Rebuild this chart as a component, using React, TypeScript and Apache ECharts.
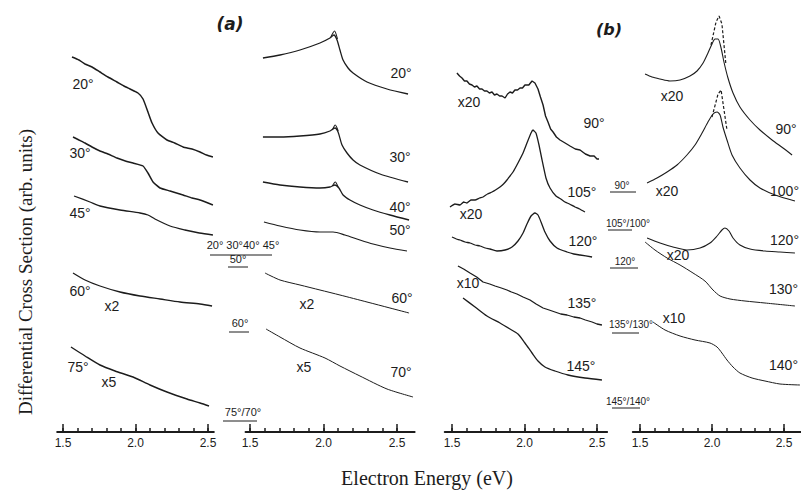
import React, { useEffect, useRef } from "react";
import * as echarts from "echarts";

// ---------- data (E in eV, intensity in arb. units) ----------
const MINOR_TICKS = [1.5, 1.6, 1.7, 1.8, 1.9, 2.0, 2.1, 2.2, 2.3, 2.4, 2.5];
const MAJOR_TICKS = [1.5, 2.0, 2.5];
const TICK_LABELS = [1.5, 2.0, 2.5];

// panel (a), left column
const a1_20 = [[1.562,375],[1.61,372],[1.652,368],[1.7,365],[1.755,360],[1.81,355],[1.872,350],[1.92,346],[1.962,343],[2.017,339],[2.052,333],[2.086,320],[2.114,309],[2.155,299],[2.217,292],[2.27,289],[2.328,285],[2.39,283],[2.445,280],[2.49,277],[2.534,275]];
const a1_30 = [[1.569,295],[1.61,292],[1.652,289],[1.7,285],[1.755,281],[1.81,278],[1.872,274],[1.93,271],[1.983,269],[2.052,266],[2.086,259],[2.121,250],[2.169,244],[2.238,241],[2.328,237],[2.39,234],[2.445,232],[2.534,227]];
const a1_45 = [[1.576,236],[1.686,230],[1.755,226],[1.893,222],[2.031,219],[2.086,217],[2.134,213],[2.238,206],[2.341,202],[2.44,199],[2.534,197]];
const a1_60 = [[1.569,159],[1.652,152],[1.755,146],[1.893,140],[2.031,136],[2.169,133],[2.307,130],[2.445,128],[2.528,126]];
const a1_75 = [[1.555,85],[1.652,76],[1.755,67],[1.859,61],[1.983,55],[2.1,47],[2.217,40],[2.355,33],[2.445,29],[2.507,26]];

// panel (a), right column
const a2_20 = [[1.588,374],[1.704,377],[1.84,382],[1.976,389],[2.044,394],[2.071,397],[2.092,392],[2.112,382],[2.133,372],[2.167,364],[2.201,359],[2.296,350],[2.432,343],[2.575,338]];
const a2_20pk = [[2.05,395],[2.075,401],[2.095,393]];
const a2_30 = [[1.588,295],[1.704,295],[1.84,296],[1.976,298],[2.044,301],[2.078,304],[2.099,300],[2.126,287],[2.16,279],[2.201,272],[2.248,267],[2.384,258],[2.575,250]];
const a2_30pk = [[2.06,302],[2.08,307],[2.1,301]];
const a2_40 = [[1.588,250],[1.704,247],[1.84,245],[1.976,244],[2.044,245],[2.078,247],[2.105,244],[2.133,237],[2.18,232],[2.248,227],[2.337,222],[2.452,217],[2.582,212]];
const a2_40pk = [[2.06,246],[2.08,250],[2.1,245]];
const a2_50 = [[1.595,210],[1.704,206],[1.84,202],[1.976,200],[2.065,200],[2.146,197],[2.248,192],[2.337,188],[2.452,184],[2.568,181]];
const a2_60 = [[1.602,159],[1.704,152],[1.84,147],[1.976,142],[2.112,137],[2.296,130],[2.452,124],[2.582,119]];
const a2_70 = [[1.609,103],[1.704,95],[1.84,84],[2.01,74],[2.112,66],[2.248,56],[2.432,43],[2.609,35]];

// panel (b), left column
const b1_90 = [[1.534,359],[1.552,356],[1.569,354],[1.586,351],[1.603,351],[1.62,348],[1.638,347],[1.655,345],[1.672,346],[1.69,343],[1.707,343],[1.724,341],[1.741,341],[1.758,339],[1.776,340],[1.793,337],[1.81,338],[1.828,336],[1.845,336],[1.866,334],[1.883,338],[1.9,340],[1.917,339],[1.934,342],[1.952,342],[1.969,344],[1.986,344],[2.003,347],[2.03,347],[2.052,351],[2.072,349],[2.093,343],[2.11,335],[2.128,327],[2.145,316],[2.162,310],[2.18,303],[2.197,300],[2.22,295],[2.245,292],[2.28,289],[2.314,286],[2.35,283],[2.383,282],[2.42,278],[2.452,276],[2.48,276],[2.5,273],[2.514,273]];
const b1_105 = [[1.486,225],[1.52,228],[1.555,227],[1.58,230],[1.603,229],[1.63,232],[1.659,232],[1.69,234],[1.714,235],[1.745,238],[1.776,240],[1.8,242],[1.831,245],[1.855,248],[1.879,252],[1.9,256],[1.921,260],[1.955,269],[1.99,279],[2.017,289],[2.045,299],[2.059,302],[2.079,299],[2.1,287],[2.121,272],[2.148,254],[2.176,244],[2.217,236],[2.25,233],[2.279,230],[2.31,228],[2.348,225],[2.38,223],[2.417,220]];
const b1_120 = [[1.5,195],[1.53,193],[1.555,192],[1.59,190],[1.624,189],[1.66,187],[1.693,186],[1.73,184],[1.762,183],[1.81,181],[1.866,182],[1.914,185],[1.955,191],[1.99,199],[2.017,208],[2.045,216],[2.072,219],[2.093,217],[2.114,210],[2.141,200],[2.176,191],[2.224,184],[2.293,180],[2.34,178],[2.383,177],[2.466,175]];
const b1_135 = [[1.541,166],[1.58,163],[1.624,159],[1.67,155],[1.714,150],[1.76,148],[1.797,146],[1.84,144],[1.879,142],[1.91,140],[1.948,138],[1.99,135],[2.038,132],[2.08,128],[2.128,124],[2.17,122],[2.21,120],[2.25,118],[2.293,117],[2.34,115],[2.383,114],[2.42,112],[2.466,110],[2.5,108],[2.534,107]];
const b1_145 = [[1.576,134],[1.659,125],[1.741,116],[1.831,109],[1.9,103],[1.955,98],[2.003,89],[2.052,79],[2.093,71],[2.141,65],[2.21,61],[2.3,57],[2.417,54],[2.534,52]];

// panel (b), right column
const b2_90 = [[1.535,358],[1.583,355],[1.639,353],[1.708,351],[1.778,352],[1.847,356],[1.896,361],[1.938,369],[1.972,379],[2.0,388],[2.021,393],[2.042,393],[2.063,384],[2.083,370],[2.111,354],[2.146,339],[2.194,325],[2.264,312],[2.333,302],[2.417,292],[2.493,284],[2.556,277]];
const b2_90pk = [[1.993,387],[2.028,410],[2.049,416],[2.069,408],[2.097,367]];
const b2_100 = [[1.549,249],[1.618,254],[1.688,260],[1.757,267],[1.826,277],[1.882,287],[1.931,299],[1.972,310],[2.007,318],[2.035,320],[2.056,317],[2.076,305],[2.104,292],[2.139,277],[2.194,264],[2.264,252],[2.333,244],[2.438,237],[2.576,231]];
const b2_100pk = [[2.0,315],[2.042,338],[2.063,342],[2.104,302]];
const b2_120 = [[1.549,194],[1.639,189],[1.729,185],[1.826,182],[1.917,184],[1.986,189],[2.035,196],[2.069,202],[2.09,204],[2.118,201],[2.146,194],[2.194,187],[2.264,183],[2.368,181],[2.472,180],[2.576,179]];
const b2_130 = [[1.535,190],[1.604,182],[1.688,174],[1.778,167],[1.868,159],[1.951,151],[2.007,142],[2.056,136],[2.125,133],[2.229,131],[2.368,129],[2.576,126]];
const b2_140 = [[1.59,110],[1.674,102],[1.778,96],[1.882,92],[1.986,89],[2.035,85],[2.069,79],[2.104,72],[2.146,65],[2.194,59],[2.278,54],[2.368,51],[2.472,48],[2.611,47]];

// ---------- layout ----------
const W = 801;
const H = 490;
const AXIS_Y = 432; // pixel row of the energy axes
const Y_MAX = 432;
const PANELS = [
  { px15: 63, ppe: 145, min: 1.46, max: 2.54 },
  { px15: 250, ppe: 147, min: 1.47, max: 2.62 },
  { px15: 452, ppe: 145, min: 1.45, max: 2.57 },
  { px15: 640, ppe: 144, min: 1.45, max: 2.615 },
];

const INK = "#1c1c1c";
const LABEL_FONT = "Liberation Sans";

export default function App() {
  const ref = useRef<HTMLDivElement>(null);
  useEffect(() => {
    if (!ref.current) return;
    const chart = echarts.init(ref.current, null, { renderer: "svg" });

    const grids = PANELS.map((p) => {
      const l = p.px15 + (p.min - 1.5) * p.ppe;
      const r = p.px15 + (p.max - 1.5) * p.ppe;
      return { left: l, width: r - l, top: AXIS_Y - Y_MAX, height: Y_MAX };
    });

    const xAxes: any[] = [];
    const yAxes: any[] = [];
    PANELS.forEach((p, i) => {
      xAxes.push({
        type: "value", gridIndex: i, min: p.min, max: p.max, position: "bottom",
        axisLine: { show: true, onZero: false, lineStyle: { color: INK, width: 2 } },
        axisTick: { show: true, inside: true, length: 4, customValues: MINOR_TICKS, lineStyle: { color: INK, width: 1.5 } },
        axisLabel: {
          show: true, customValues: TICK_LABELS, margin: 5,
          formatter: (v: number) => v.toFixed(1),
          color: INK, fontSize: 12, fontFamily: LABEL_FONT,
        },
        splitLine: { show: false },
      });
      xAxes.push({
        type: "value", gridIndex: i, min: p.min, max: p.max, position: "bottom", offset: 0,
        axisLine: { show: false, onZero: false },
        axisTick: { show: true, inside: true, length: 8, customValues: MAJOR_TICKS, lineStyle: { color: INK, width: 1.5 } },
        axisLabel: { show: false },
        splitLine: { show: false },
      });
      yAxes.push({ type: "value", gridIndex: i, min: 0, max: Y_MAX, show: false });
    });

    const mk = (data: number[][], panel: number, width = 1.3, dashed = false, smooth: any = 0.25) => ({
      type: "line", data, xAxisIndex: panel * 2, yAxisIndex: panel,
      showSymbol: false, smooth, silent: true,
      lineStyle: { color: INK, width, type: dashed ? [3, 2] : "solid" },
    });

    const series = [
      mk(a1_20, 0, 1.5, false, 0.15), mk(a1_30, 0, 1.5, false, 0.15), mk(a1_45, 0, 1.3), mk(a1_60, 0, 1.3), mk(a1_75, 0, 1.4),
      mk(a2_20, 1, 1.3), mk(a2_20pk, 1, 1.1), mk(a2_30, 1, 1.3), mk(a2_30pk, 1, 1.1), mk(a2_40, 1, 1.3), mk(a2_40pk, 1, 1.1),
      mk(a2_50, 1, 1.2), mk(a2_60, 1, 1.0), mk(a2_70, 1, 1.0),
      mk(b1_90, 2, 1.4, false, false), mk(b1_105, 2, 1.3, false, 0.1), mk(b1_120, 2, 1.3, false, 0.2), mk(b1_135, 2, 1.3, false, false), mk(b1_145, 2, 1.3),
      mk(b2_90, 3, 1.1), mk(b2_90pk, 3, 1.2, true, false), mk(b2_100, 3, 1.1), mk(b2_100pk, 3, 1.2, true, false),
      mk(b2_120, 3, 1.1), mk(b2_130, 3, 1.0), mk(b2_140, 3, 1.0),
    ];

    const lbl = (text: string, x: number, y: number, size = 14, align = "center") => ({
      type: "text", x, y, silent: true,
      style: { text, fill: INK, fontSize: size, fontFamily: LABEL_FONT, textAlign: align, textVerticalAlign: "middle" },
    });
    const uline = (x1: number, x2: number, y: number) => ({
      type: "line", silent: true, shape: { x1, y1: y, x2, y2: y }, style: { stroke: INK, lineWidth: 1 },
    });

    const graphic: any[] = [
      {
        type: "text", x: 25, y: 272, rotation: Math.PI / 2, silent: true,
        style: { text: "Differential Cross Section (arb. units)", fill: INK, fontSize: 19, fontFamily: "Liberation Serif", textAlign: "center", textVerticalAlign: "middle" },
      },
      {
        type: "text", x: 427, y: 478, silent: true,
        style: { text: "Electron Energy (eV)", fill: INK, fontSize: 20, fontFamily: "Liberation Serif", textAlign: "center", textVerticalAlign: "middle" },
      },
      { type: "text", x: 230, y: 24, silent: true, style: { text: "(a)", fill: INK, fontSize: 17, fontWeight: "bold", fontStyle: "italic", fontFamily: "DejaVu Sans", textAlign: "center", textVerticalAlign: "middle" } },
      { type: "text", x: 609, y: 29, silent: true, style: { text: "(b)", fill: INK, fontSize: 16, fontWeight: "bold", fontStyle: "italic", fontFamily: "DejaVu Sans", textAlign: "center", textVerticalAlign: "middle" } },
      // panel (a) left
      lbl("20°", 83, 84), lbl("30°", 80, 153), lbl("45°", 80, 213), lbl("60°", 80, 291), lbl("x2", 112, 306), lbl("75°", 78, 367), lbl("x5", 109, 382),
      // panel (a) right
      lbl("20°", 401, 73), lbl("30°", 400, 157), lbl("40°", 400, 207), lbl("50°", 400, 230), lbl("x2", 307, 304), lbl("60°", 402, 298), lbl("x5", 304, 367), lbl("70°", 401, 372),
      // middle (a)
      lbl("20° 30°40° 45°", 243, 245, 11), uline(210, 272, 255),
      lbl("50°", 238, 259, 11), uline(228, 248, 267),
      lbl("60°", 240, 323, 11), uline(229, 249, 332),
      lbl("75°/70°", 243, 412, 11), uline(223, 257, 421),
      // panel (b) left
      lbl("x20", 469, 102), lbl("90°", 594, 123), lbl("105°", 582, 192), lbl("x20", 471, 214), lbl("120°", 583, 241),
      lbl("x10", 468, 283), lbl("135°", 582, 303), lbl("145°", 581, 366),
      // middle (b)
      lbl("90°", 622, 185, 10), uline(610, 636, 192),
      lbl("105°/100°", 628, 223, 10), uline(608, 632, 230),
      lbl("120°", 625, 261, 10), uline(610, 638, 268),
      lbl("135°/130°", 631, 324, 10), uline(612, 639, 333),
      lbl("145°/140°", 628, 401, 10), uline(612, 640, 408),
      // panel (b) right
      lbl("x20", 672, 96), lbl("90°", 786, 129), lbl("x20", 667, 191), lbl("100°", 799, 191, 14, "right"), lbl("120°", 799, 240, 14, "right"),
      lbl("x20", 678, 255), lbl("130°", 798, 289, 14, "right"), lbl("x10", 674, 318), lbl("140°", 798, 365, 14, "right"),
    ];

    chart.setOption({
      animation: false,
      backgroundColor: "#ffffff",
      grid: grids,
      xAxis: xAxes,
      yAxis: yAxes,
      series,
      graphic,
    });
    return () => chart.dispose();
  }, []);
  return <div ref={ref} style={{ position: "fixed", left: 0, top: 0, width: W, height: H }} />;
}
